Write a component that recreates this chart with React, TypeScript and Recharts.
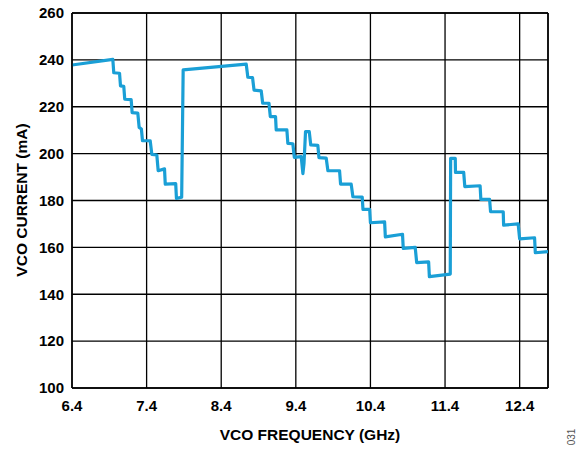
import React from "react";
import { LineChart, Line, XAxis, YAxis, CartesianGrid, ReferenceLine } from "recharts";

const freqGHz = [
  6.4, 6.947, 6.96, 7.037, 7.05, 7.094, 7.107, 7.193, 7.206, 7.282, 7.3, 7.33, 7.345, 7.448, 7.47, 7.537,
  7.555, 7.64, 7.65, 7.79, 7.8, 7.87, 7.89, 8.735, 8.757, 8.82, 8.84, 8.936, 8.956, 9.04, 9.058, 9.128,
  9.137, 9.28, 9.293, 9.36, 9.38, 9.472, 9.495, 9.51, 9.53, 9.58, 9.6, 9.695, 9.71, 9.807, 9.83, 9.986,
  10.0, 10.142, 10.165, 10.29, 10.3, 10.39, 10.4, 10.59, 10.6, 10.83, 10.84, 11.0, 11.02, 11.18, 11.19,
  11.47, 11.475, 11.537, 11.54, 11.65, 11.665, 11.87, 11.88, 11.997, 12.01, 12.18, 12.185, 12.38, 12.4,
  12.6, 12.61, 12.78,
];
const currentMA = [
  237.8, 240.2, 234.5, 234.3, 228.9, 228.7, 223.2, 223.0, 217.5, 217.3, 211.2, 210.5, 205.5, 205.5, 199.7, 199.4,
  192.7, 193.5, 187.0, 187.2, 180.9, 181.4, 235.7, 238.2, 232.6, 232.4, 227.1, 226.8, 221.5, 221.5, 215.8, 215.8,
  210.1, 210.1, 204.4, 204.2, 198.4, 198.7, 191.5, 196.0, 209.4, 209.4, 203.7, 203.5, 198.3, 198.1, 192.7, 192.7,
  187.0, 187.0, 181.6, 181.4, 176.2, 176.2, 170.5, 170.9, 164.5, 165.6, 159.6, 160.0, 153.5, 153.8, 147.5,
  148.6, 198.0, 198.0, 192.0, 192.0, 185.9, 186.3, 180.5, 180.5, 175.2, 175.2, 169.5, 170.0, 163.6,
  164.1, 157.7, 158.2,
];
const xTicks = [6.4, 7.4, 8.4, 9.4, 10.4, 11.4, 12.4];
const yTicks = [100, 120, 140, 160, 180, 200, 220, 240, 260];
const X_MIN = 6.4;
const X_MAX = 12.78;

const data = freqGHz.map((f, i) => ({ f, c: currentMA[i] }));

const font = "'Liberation Sans', Arial, sans-serif";

export default function App() {
  return (
    <div style={{ position: "absolute", left: 0, top: 0, width: 580, height: 449, background: "#fff", fontFamily: font }}>
      <LineChart width={580} height={449} data={data} margin={{ top: 13, right: 32, left: 0, bottom: 31 }}>
        <CartesianGrid stroke="#000" strokeWidth={1.3} vertical horizontal />
        <XAxis
          dataKey="f"
          type="number"
          domain={[X_MIN, X_MAX]}
          ticks={xTicks}
          allowDataOverflow
          tickFormatter={(v: number) => v.toFixed(1)}
          tickLine={false}
          tickSize={0}
          tickMargin={12}
          height={30}
          axisLine={{ stroke: "#000", strokeWidth: 1.5 }}
          tick={{ fill: "#000", fontSize: 15, fontWeight: "bold", fontFamily: font }}
        />
        <YAxis
          type="number"
          domain={[100, 260]}
          ticks={yTicks}
          allowDataOverflow
          tickLine={false}
          tickSize={0}
          tickMargin={8}
          width={72}
          axisLine={{ stroke: "#000", strokeWidth: 1.5 }}
          tick={{ fill: "#000", fontSize: 15, fontWeight: "bold", fontFamily: font }}
        />
        <ReferenceLine x={X_MAX} stroke="#000" strokeWidth={1.5} />
        <ReferenceLine y={260} stroke="#000" strokeWidth={1.5} />
        <Line
          dataKey="c"
          type="linear"
          stroke="#1a9fd6"
          strokeWidth={3.2}
          dot={false}
          isAnimationActive={false}
          strokeLinejoin="round"
        />
      </LineChart>
      <div style={{ position: "absolute", left: 72, width: 476, top: 426, textAlign: "center", fontSize: 15.5, fontWeight: "bold" }}>
        VCO FREQUENCY (GHz)
      </div>
      <div
        style={{
          position: "absolute",
          left: 22,
          top: 200,
          transform: "translate(-50%, -50%) rotate(-90deg)",
          whiteSpace: "nowrap",
          fontSize: 15.5,
          fontWeight: "bold",
        }}
      >
        VCO CURRENT (mA)
      </div>
      <div
        style={{
          position: "absolute",
          left: 571,
          top: 437,
          transform: "translate(-50%, -50%) rotate(-90deg)",
          whiteSpace: "nowrap",
          fontSize: 10,
          color: "#555",
        }}
      >
        031
      </div>
    </div>
  );
}
